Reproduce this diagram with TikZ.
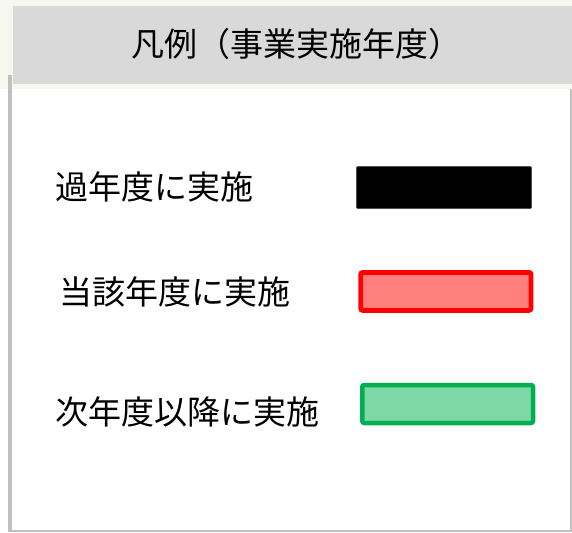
\documentclass[tikz,border=0pt]{standalone}
\usepackage{fontspec}
\newfontfamily\jp{Noto Sans CJK JP}
\definecolor{cream}{HTML}{F7F7F2}
\definecolor{hdrgray}{HTML}{D9D9D9}
\definecolor{bordergray}{HTML}{C0C0C0}
\definecolor{redfill}{HTML}{FF7F7F}
\definecolor{redline}{HTML}{FF0000}
\definecolor{greenfill}{HTML}{7FD7A7}
\definecolor{greenline}{HTML}{00B050}
\tikzset{
  lbl/.style={anchor=base west,inner sep=0pt,font=\jp\fontsize{33}{36}\selectfont,text=black},
  ttl/.style={anchor=base west,inner sep=0pt,font=\jp\fontsize{33}{36}\selectfont,text=black},
  swatch/.style={rounded corners=2pt}
}
\begin{document}
\begin{tikzpicture}[x=1pt,y=-1pt]
\useasboundingbox (0,0) rectangle (572,532);
\fill[white] (0,0) rectangle (572,532);
\fill[cream] (0,0) rectangle (572,89);
% main frame
\fill[bordergray] (8,75) rectangle (12,532);
\fill[bordergray] (8,530) rectangle (572,532);
\fill[bordergray] (570,89) rectangle (572,532);
% header
\fill[hdrgray] (13,6) rectangle (572,84);
\node[ttl] (title) at (131.4,56.7) {凡例（事業実施年度）};
% rows
\node[lbl] (l1) at (55.4,199.4) {過年度に実施};
\node[lbl] (l2) at (59.4,304.4) {当該年度に実施};
\node[lbl] (l3) at (55.7,424.4) {次年度以降に実施};
\filldraw[swatch,fill=black,draw=black!70,line width=0.5pt] (356.3,166.3) rectangle (531.7,208.7);
\filldraw[swatch,fill=redfill,draw=redline,line width=4.7pt] (360.7,272.4) rectangle (531,310.4);
\filldraw[swatch,fill=greenfill,draw=greenline,line width=4.5pt] (362.3,385) rectangle (533,423);
\end{tikzpicture}
\end{document}
